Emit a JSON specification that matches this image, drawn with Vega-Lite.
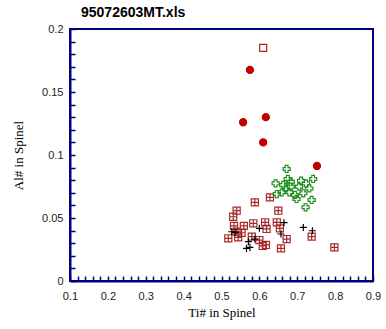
{
  "$schema": "https://vega.github.io/schema/vega-lite/v6.json",
  "autosize": "none",
  "width": 303,
  "height": 252,
  "padding": {"left": 70, "top": 29, "right": 13, "bottom": 48},
  "background": "white",
  "title": {"text": "95072603MT.xls", "anchor": "start", "frame": "group", "dx": 11, "offset": 3, "font": "Liberation Sans", "fontSize": 14, "fontWeight": "bold", "color": "black"},
  "config": {"view": {"stroke": "#000080", "strokeWidth": 2}},
  "data": {"values": [
      {"Ti": 0.628, "Al": 0.0664, "type": "box"},
      {"Ti": 0.588, "Al": 0.0624, "type": "box"},
      {"Ti": 0.540, "Al": 0.0558, "type": "box"},
      {"Ti": 0.531, "Al": 0.051, "type": "box"},
      {"Ti": 0.650, "Al": 0.0558, "type": "box"},
      {"Ti": 0.533, "Al": 0.0437, "type": "box"},
      {"Ti": 0.559, "Al": 0.0437, "type": "box"},
      {"Ti": 0.584, "Al": 0.0458, "type": "box"},
      {"Ti": 0.615, "Al": 0.0466, "type": "box"},
      {"Ti": 0.646, "Al": 0.0466, "type": "box"},
      {"Ti": 0.619, "Al": 0.0413, "type": "box"},
      {"Ti": 0.654, "Al": 0.0418, "type": "box"},
      {"Ti": 0.540, "Al": 0.0391, "type": "box"},
      {"Ti": 0.553, "Al": 0.0383, "type": "box"},
      {"Ti": 0.580, "Al": 0.0352, "type": "box"},
      {"Ti": 0.518, "Al": 0.0339, "type": "box"},
      {"Ti": 0.544, "Al": 0.0347, "type": "box"},
      {"Ti": 0.600, "Al": 0.0325, "type": "box"},
      {"Ti": 0.672, "Al": 0.0333, "type": "box"},
      {"Ti": 0.738, "Al": 0.0352, "type": "box"},
      {"Ti": 0.609, "Al": 0.0278, "type": "box"},
      {"Ti": 0.617, "Al": 0.0286, "type": "box"},
      {"Ti": 0.657, "Al": 0.0259, "type": "box"},
      {"Ti": 0.798, "Al": 0.0267, "type": "box"},
      {"Ti": 0.672, "Al": 0.0889, "type": "green"},
      {"Ti": 0.675, "Al": 0.081, "type": "green"},
      {"Ti": 0.643, "Al": 0.0775, "type": "green"},
      {"Ti": 0.663, "Al": 0.0762, "type": "green"},
      {"Ti": 0.683, "Al": 0.0788, "type": "green"},
      {"Ti": 0.683, "Al": 0.0749, "type": "green"},
      {"Ti": 0.710, "Al": 0.0796, "type": "green"},
      {"Ti": 0.723, "Al": 0.0775, "type": "green"},
      {"Ti": 0.742, "Al": 0.081, "type": "green"},
      {"Ti": 0.705, "Al": 0.0749, "type": "green"},
      {"Ti": 0.732, "Al": 0.0735, "type": "green"},
      {"Ti": 0.659, "Al": 0.0704, "type": "green"},
      {"Ti": 0.646, "Al": 0.069, "type": "green"},
      {"Ti": 0.679, "Al": 0.0704, "type": "green"},
      {"Ti": 0.716, "Al": 0.0696, "type": "green"},
      {"Ti": 0.694, "Al": 0.0683, "type": "green"},
      {"Ti": 0.698, "Al": 0.0651, "type": "green"},
      {"Ti": 0.738, "Al": 0.0643, "type": "green"},
      {"Ti": 0.722, "Al": 0.0585, "type": "green"},
      {"Ti": 0.670, "Al": 0.0735, "type": "green"},
      {"Ti": 0.665, "Al": 0.0463, "type": "plus"},
      {"Ti": 0.716, "Al": 0.0425, "type": "plus"},
      {"Ti": 0.740, "Al": 0.0399, "type": "plus"},
      {"Ti": 0.527, "Al": 0.0391, "type": "plus"},
      {"Ti": 0.536, "Al": 0.0386, "type": "plus"},
      {"Ti": 0.600, "Al": 0.0418, "type": "plus"},
      {"Ti": 0.657, "Al": 0.0373, "type": "plus"},
      {"Ti": 0.571, "Al": 0.0312, "type": "plus"},
      {"Ti": 0.566, "Al": 0.0259, "type": "plus"},
      {"Ti": 0.575, "Al": 0.0267, "type": "plus"},
      {"Ti": 0.588, "Al": 0.0333, "type": "plus"},
      {"Ti": 0.575, "Al": 0.1675, "type": "circle"},
      {"Ti": 0.557, "Al": 0.126, "type": "circle"},
      {"Ti": 0.617, "Al": 0.130, "type": "circle"},
      {"Ti": 0.610, "Al": 0.110, "type": "circle"},
      {"Ti": 0.752, "Al": 0.0913, "type": "circle"},
      {"Ti": 0.610, "Al": 0.185, "type": "square"}
  ]},
  "mark": {"type": "point", "size": 50, "strokeWidth": 1.2, "opacity": 1, "fillOpacity": 1, "strokeOpacity": 1},
  "encoding": {
    "x": {"field": "Ti", "type": "quantitative", "scale": {"domain": [0.1, 0.9], "nice": false, "zero": false},
      "axis": {"orient": "bottom", "title": "Ti# in Spinel", "values": [0.1,0.12,0.14,0.16,0.18,0.2,0.22,0.24,0.26,0.28,0.3,0.32,0.34,0.36,0.38,0.4,0.42,0.44,0.46,0.48,0.5,0.52,0.54,0.56,0.58,0.6,0.62,0.64,0.66,0.68,0.7,0.72,0.74,0.76,0.78,0.8,0.82,0.84,0.86,0.88,0.9],
        "labelExpr": "abs(datum.value*10 - round(datum.value*10)) < 0.001 ? format(datum.value, '.1f') : ''",
        "tickSize": -5, "tickColor": "#000080", "tickWidth": 1.5, "domainColor": "#000080", "domainWidth": 2,
        "grid": false,
        "labelPadding": 14, "labelFlush": false, "labelOverlap": false, "labelFont": "Liberation Sans", "labelFontSize": 11, "labelColor": "#222",
        "titlePadding": 5, "titleFont": "Liberation Serif", "titleFontSize": 13, "titleFontWeight": "normal", "titleColor": "black"}},
    "y": {"field": "Al", "type": "quantitative", "scale": {"domain": [0, 0.2], "nice": false},
      "axis": {"orient": "left", "title": "Al# in Spinel", "values": [0,0.01,0.02,0.03,0.04,0.05,0.06,0.07,0.08,0.09,0.1,0.11,0.12,0.13,0.14,0.15,0.16,0.17,0.18,0.19,0.2],
        "labelExpr": "abs(datum.value*20 - round(datum.value*20)) < 0.001 ? format(datum.value, '~g') : ''",
        "tickSize": -5, "tickColor": "#000080", "tickWidth": 1.5, "domainColor": "#000080", "domainWidth": 2,
        "grid": false,
        "labelPadding": 12, "labelFlush": false, "labelOverlap": false, "labelFont": "Liberation Sans", "labelFontSize": 11, "labelColor": "#222",
        "titlePadding": 16, "titleFont": "Liberation Serif", "titleFontSize": 13, "titleFontWeight": "normal", "titleColor": "black"}},
    "shape": {"field": "type", "type": "nominal", "legend": null, "scale": {"domain": ["box", "green", "plus", "circle", "square"], "range": ["M-1,-1H1V1H-1Z M0,-1V1 M-1,0H1", "cross", "M-1,0H1M0,-1V1", "circle", "square"]}},
    "fill": {"field": "type", "type": "nominal", "legend": null, "scale": {"domain": ["box", "green", "plus", "circle", "square"], "range": ["transparent", "transparent", "transparent", "#c00000", "transparent"]}},
    "stroke": {"field": "type", "type": "nominal", "legend": null, "scale": {"domain": ["box", "green", "plus", "circle", "square"], "range": ["#a52a2a", "#1f8f1f", "black", "#c00000", "#b22222"]}}
  }
}
